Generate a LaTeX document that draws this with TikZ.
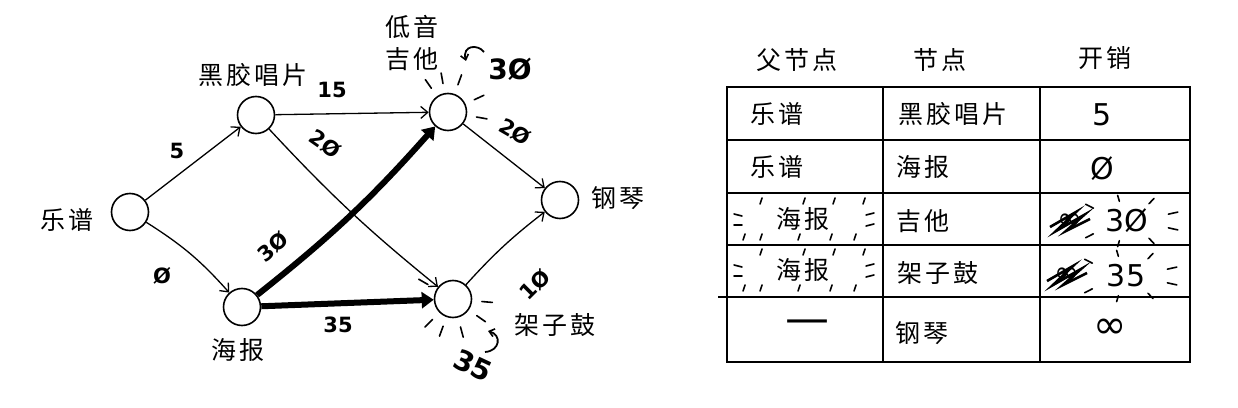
\documentclass[tikz,border=0pt]{standalone}
\usepackage{fontspec}
\setmainfont{DejaVu Sans}
\newfontfamily\cjk[LetterSpace=12]{Noto Sans CJK SC}
\usetikzlibrary{arrows.meta,calc}

\tikzset{
    vertex/.style={draw, circle, line width=1.6pt, minimum size=37pt, inner sep=0pt},
    cnname/.style={font=\cjk\fontsize{25}{32}\selectfont, align=center},
    weight/.style={font=\bfseries\fontsize{21}{22}\selectfont, inner sep=1pt},
    bigweight/.style={font=\bfseries\fontsize{28}{30}\selectfont},
    link/.style={line width=1.3pt, -{Straight Barb[length=7pt, width=12pt, line width=1.3pt]}},
    bestlink/.style={line width=6pt, -{Triangle[length=12pt, width=16pt]}},
    hook/.style={line width=1.8pt, -{Straight Barb[length=5pt, width=8pt, line width=1.6pt]}},
    flare/.style={line width=1.6pt, line cap=round},
    rule/.style={line width=2.4pt},
    cell/.style={font=\cjk\fontsize{25}{30}\selectfont},
    figure/.style={font=\fontsize{30}{32}\selectfont}
}

\begin{document}
\begin{tikzpicture}[x=1pt, y=1pt]
    \useasboundingbox (0,0) rectangle (1238,407);

    \node[vertex] (score) at (130,195) {};
    \node[vertex] (record) at (256,292) {};
    \node[vertex] (guitar) at (448,295) {};
    \node[vertex] (poster) at (242,100) {};
    \node[vertex] (drum) at (453,108) {};
    \node[vertex] (piano) at (560,207) {};

    \node[cnname] (scorename) at (67,187) {乐谱};
    \node[cnname] (recordname) at (253,332) {黑胶唱片};
    \node[cnname] (guitarname) at (412,364) {低音\\吉他};
    \node[cnname] (postername) at (238,57) {海报};
    \node[cnname] (drumname) at (555,82) {架子鼓};
    \node[cnname] (pianoname) at (618,209) {钢琴};

    \draw[link] (score) -- (record);
    \draw[link] (score) to[bend left=8] (poster);
    \draw[link] (record) -- (guitar);
    \draw[link] (record) to[bend right=4] (drum);
    \draw[bestlink] (poster) to[bend right=5] (guitar);
    \draw[bestlink] (poster) -- (drum);
    \draw[link] (guitar) -- (piano);
    \draw[link] (drum) to[bend left=5] (piano);

    \node[weight] (w1) at (177,256) {5};
    \node[weight] (w2) at (162,131) {Ø};
    \node[weight] (w3) at (332,317) {15};
    \node[weight, rotate=-35] (w4) at (325,263) {2Ø};
    \node[weight, rotate=40] (w5) at (273,160) {3Ø};
    \node[weight] (w6) at (338,82) {35};
    \node[weight, rotate=-30] (w7) at (515,275) {2Ø};
    \node[weight, rotate=45] (w8) at (535,122) {1Ø};

    \foreach \a in {125,100,70,25,-10}
        \draw[flare] ($(guitar.center)!1.5!(guitar.\a)$) -- ($(guitar.center)!2.05!(guitar.\a)$);
    \foreach \a in {150,-135,-110,-75,-35,-5}
        \draw[flare] ($(drum.center)!1.5!(drum.\a)$) -- ($(drum.center)!2.05!(drum.\a)$);
    \node[bigweight] (guitarcost) at (510,338) {3Ø};
    \node[bigweight, rotate=-25] (drumcost) at (473,42) {35};
    \draw[hook] (484,355) .. controls (478,363) and (462,362) .. (466,346);
    \draw[hook] (485,55) .. controls (500,56) and (502,72) .. (488,76);

    \node[cell] (head1) at (797,347) {父节点};
    \node[cell] (head2) at (940,347) {节点};
    \node[cell] (head3) at (1105,349) {开销};

    \draw[rule] (727,320) rectangle (1190,45);
    \draw[rule] (883,320) -- (883,45);
    \draw[rule] (1040,320) -- (1040,45);
    \draw[rule] (727,267) -- (1190,267);
    \draw[rule] (727,214) -- (1190,214);
    \draw[rule] (727,162) -- (1190,162);
    \draw[rule] (718,110) -- (1190,110);

    \node[cell] (p1) at (777,293) {乐谱};
    \node[cell] (n1) at (953,293) {黑胶唱片};
    \node[figure] (c1) at (1102,292) {5};
    \node[cell] (p2) at (777,240) {乐谱};
    \node[cell] (n2) at (923,240) {海报};
    \node[figure] (c2) at (1102,238) {Ø};
    \node[cell] (p3) at (803,188) {海报};
    \node[cell] (n3) at (923,186) {吉他};
    \node[figure] (c3) at (1127,186) {3Ø};
    \node[cell] (p4) at (803,137) {海报};
    \node[cell] (n4) at (938,134) {架子鼓};
    \node[figure] (c4) at (1126,131) {35};
    \node[figure, font=\fontsize{44}{44}\selectfont] (p5) at (807,80) {—};
    \node[cell] (n5) at (922,74) {钢琴};
    \node[figure, font=\fontsize{40}{40}\selectfont] (c5) at (1110,78) {∞};

    \node[figure, font=\fontsize{30}{30}\selectfont] (x3) at (1070,186) {∞};
    \draw[line width=2.6pt] (1050,180) -- (1076,195) -- (1056,176) -- (1084,192) -- (1066,176) -- (1090,188);
    \node[figure, font=\fontsize{30}{30}\selectfont] (x4) at (1067,132) {∞};
    \draw[line width=2.6pt] (1047,126) -- (1073,141) -- (1053,122) -- (1081,138) -- (1063,122) -- (1087,134);

    \foreach \y in {188,137} {
        \foreach \x in {760,803,833,863}
            \draw[flare] (\x,\y+15) -- (\x+2,\y+21);
        \foreach \x in {745,762,800,832,856}
            \draw[flare] (\x,\y-15) -- (\x-2,\y-21);
        \draw[flare] (734,\y+5) -- (742,\y+3);
        \draw[flare] (734,\y-6) -- (742,\y-6);
        \draw[flare] (866,\y+4) -- (874,\y+6);
        \draw[flare] (866,\y-7) -- (874,\y-5);
    }
    \coordinate (burst3) at (1127,186);
    \coordinate (burst4) at (1126,131);
    \foreach \c in {burst3,burst4}
        \foreach \a in {20,60,100,140,220,260,300,340}
            \draw[flare] ($(\c)+(\a:44 and 20)$) -- ($(\c)+(\a:54 and 26)$);
\end{tikzpicture}
\end{document}
